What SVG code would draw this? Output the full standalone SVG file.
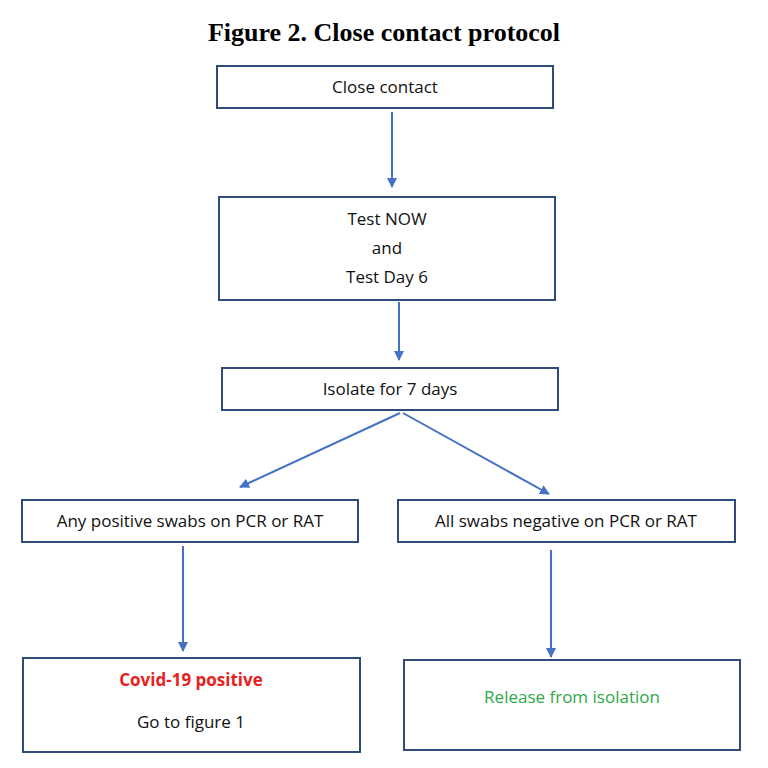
<svg xmlns="http://www.w3.org/2000/svg" width="768" height="768" viewBox="0 0 768 768">
<style>
.box{fill:#fff;stroke:#2F4B7C;stroke-width:2}
.t{font-family:"Open Sans","Liberation Sans",sans-serif;font-size:17px;fill:#111;text-anchor:middle}
.c line{stroke:#4472C4;stroke-width:2;marker-end:url(#a)}
</style>
<defs><marker id="a" viewBox="0 0 10 10" refX="9" refY="5" markerWidth="5" markerHeight="5" orient="auto"><path d="M0,0L10,5L0,10z" fill="#4472C4"/></marker></defs>
<rect width="768" height="768" fill="#fff"/>
<text x="384" y="41" text-anchor="middle" font-family="Liberation Serif,serif" font-weight="bold" font-size="26">Figure 2. Close contact protocol</text>
<g id="n1"><rect class="box" x="217" y="66" width="336" height="42"/><text class="t" x="385" y="93">Close contact</text></g>
<g id="n2"><rect class="box" x="219" y="197" width="336" height="103"/><text class="t" x="387" y="225">Test NOW</text><text class="t" x="387" y="254">and</text><text class="t" x="387" y="283">Test Day 6</text></g>
<g id="n3"><rect class="box" x="222" y="368" width="336" height="42"/><text class="t" x="390" y="395">Isolate for 7 days</text></g>
<g id="n4"><rect class="box" x="22" y="500" width="336" height="42"/><text class="t" x="190" y="527">Any positive swabs on PCR or RAT</text></g>
<g id="n5"><rect class="box" x="398" y="500" width="337" height="42"/><text class="t" x="566" y="527">All swabs negative on PCR or RAT</text></g>
<g id="n6"><rect class="box" x="23" y="658" width="337" height="94"/><text class="t" x="191" y="686" fill="#E02020" style="fill:#E8201E;font-weight:bold">Covid-19 positive</text><text class="t" x="191" y="728">Go to figure 1</text></g>
<g id="n7"><rect class="box" x="404" y="660" width="336" height="90"/><text class="t" x="572" y="703" style="fill:#2EA84A">Release from isolation</text></g>
<g class="c" id="connectors">
<line x1="392" y1="112" x2="392" y2="187"/>
<line x1="399" y1="302" x2="399" y2="360"/>
<line x1="400" y1="413" x2="240" y2="487"/>
<line x1="403" y1="413" x2="549" y2="494"/>
<line x1="183" y1="546" x2="183" y2="651"/>
<line x1="551" y1="550" x2="551" y2="657"/>
</g>
</svg>
